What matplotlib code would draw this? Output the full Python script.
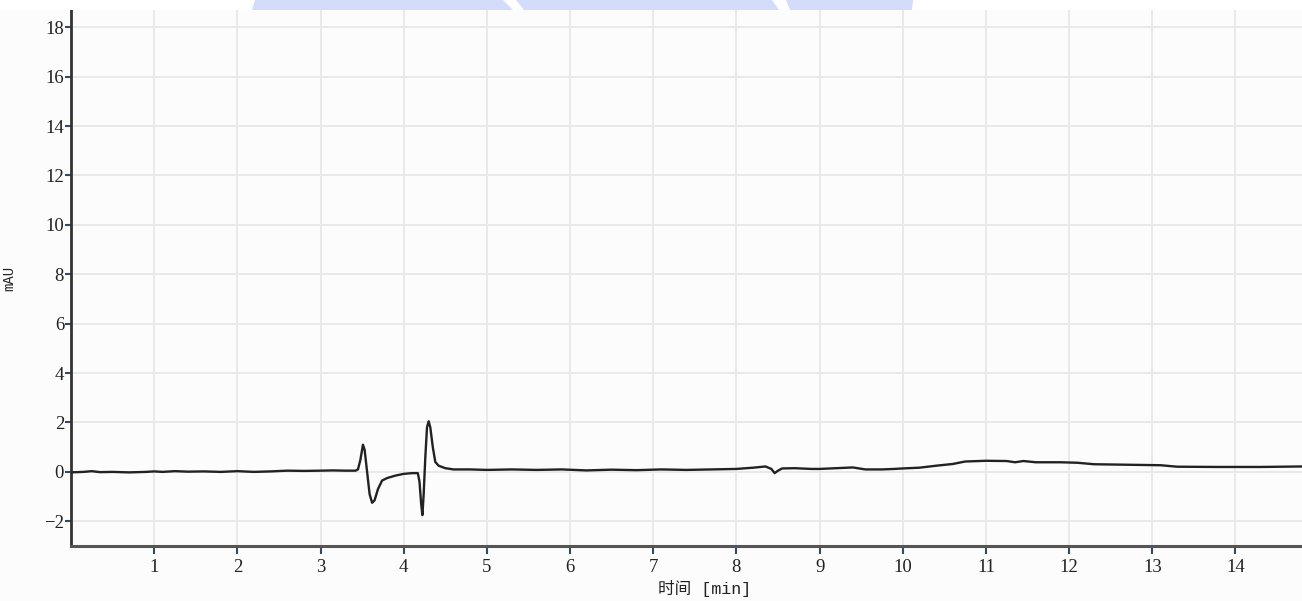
import numpy as np
import matplotlib.pyplot as plt
from matplotlib.patches import Polygon, Rectangle

tiempo = [0.0, 0.15, 0.25, 0.35, 0.5, 0.7, 0.9, 1.0, 1.1, 1.25, 1.4, 1.6, 1.8,
          2.0, 2.2, 2.4, 2.6, 2.8, 3.0, 3.15, 3.3, 3.42,
          3.45, 3.48, 3.51, 3.53, 3.56, 3.59, 3.62, 3.65, 3.69, 3.74, 3.8, 3.9,
          4.0, 4.1, 4.17, 4.19, 4.21, 4.225, 4.24, 4.26, 4.28, 4.3, 4.32, 4.35,
          4.38, 4.42, 4.5, 4.6, 4.8, 5.0, 5.3, 5.6, 5.9, 6.2, 6.5, 6.8, 7.1,
          7.4, 7.7, 8.0, 8.2, 8.35, 8.42, 8.46, 8.5, 8.55, 8.7, 8.9, 9.0, 9.2,
          9.4, 9.55, 9.75, 9.9, 10.0, 10.2, 10.4, 10.6, 10.75, 11.0, 11.25,
          11.35, 11.45, 11.6, 11.9, 12.1, 12.3, 12.7, 13.1, 13.3, 13.8, 14.3, 14.8]
senal = [-0.02, 0.0, 0.03, -0.01, 0.0, -0.02, 0.0, 0.02, 0.0, 0.03, 0.01, 0.02, 0.0,
         0.03, 0.0, 0.02, 0.05, 0.04, 0.05, 0.06, 0.05, 0.05,
         0.1, 0.5, 1.1, 0.9, 0.0, -0.9, -1.25, -1.15, -0.7, -0.35, -0.25, -0.15,
         -0.08, -0.05, -0.05, -0.4, -1.3, -1.75, -0.9, 0.6, 1.8, 2.05, 1.8, 1.0,
         0.4, 0.25, 0.15, 0.1, 0.1, 0.08, 0.1, 0.08, 0.1, 0.06, 0.09, 0.07, 0.1,
         0.08, 0.1, 0.12, 0.17, 0.22, 0.12, -0.05, 0.05, 0.14, 0.15, 0.12, 0.12, 0.15,
         0.18, 0.1, 0.1, 0.12, 0.14, 0.17, 0.25, 0.32, 0.42, 0.45, 0.44,
         0.39, 0.44, 0.39, 0.39, 0.37, 0.31, 0.29, 0.27, 0.21, 0.2, 0.2, 0.22]

xticks = list(range(1, 15))
yticks = list(range(-2, 19, 2))

fig = plt.figure(figsize=(13.02, 6.01), dpi=100, facecolor='#fcfcfc')
ax = fig.add_axes([71 / 1302, 55 / 601, 1 - 71 / 1302, 536 / 601])
ax.set_facecolor('#fcfcfc')

ax.plot(tiempo, senal, color='#222222', lw=1.7, zorder=3)

ax.set_xlim(0, 14.8)
ax.set_ylim(-3, 18.7)
ax.set_xticks(xticks)
ax.set_yticks(yticks)
ax.grid(True, color='#e8e8e8', lw=1.3, zorder=0)
ax.set_axisbelow(True)

for s in ['top', 'right']:
    ax.spines[s].set_visible(False)
ax.spines['left'].set_color('#333333')
ax.spines['left'].set_linewidth(2)
ax.spines['bottom'].set_color('#555555')
ax.spines['bottom'].set_linewidth(2.2)

ax.tick_params(axis='both', direction='out', colors='#3a4a5e', labelcolor='#222222',
               labelsize=13.5, width=1.5)
ax.tick_params(axis='y', length=4, pad=1)
ax.tick_params(axis='x', length=6, pad=3)
for lab in ax.get_xticklabels() + ax.get_yticklabels():
    lab.set_family('Liberation Serif')

ax.set_xlabel('时间 [min]', family=['Liberation Mono', 'Noto Sans CJK SC'],
              fontsize=12, color='#222222')
ax.xaxis.set_label_coords(0.515, -0.064)
ax.set_ylabel('mAU', family=['Liberation Mono', 'Noto Sans CJK SC'],
              fontsize=10, color='#222222', labelpad=20)

# franja blanca superior con marca de agua azul
fig.add_artist(Rectangle((0, 591 / 601), 1, 10 / 601, transform=fig.transFigure,
                         facecolor='white', edgecolor='none', zorder=5))
azul = '#d4dcfc'
# (abajo izq, arriba izq, arriba der, abajo der) en pixeles
formas = [(252, 255, 503, 513), (524, 516, 772, 779), (790, 786, 913, 912)]
for bl, tl, tr, br in formas:
    pts = [(bl / 1302, 591 / 601), (tl / 1302, 1), (tr / 1302, 1), (br / 1302, 591 / 601)]
    fig.add_artist(Polygon(pts, closed=True, transform=fig.transFigure,
                           facecolor=azul, edgecolor='none', zorder=6))

fig.savefig('out.png', dpi=100, facecolor=fig.get_facecolor())
